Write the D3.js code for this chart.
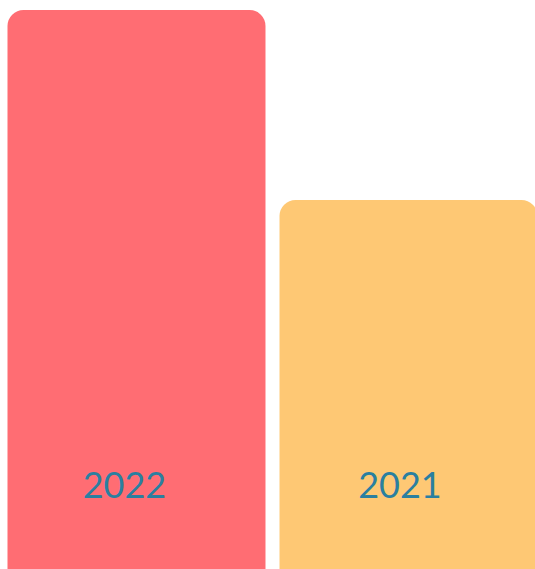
<!DOCTYPE html>
<html>
<head>
<meta charset="utf-8">
<script src="https://cdn.jsdelivr.net/npm/d3@7"></script>
<style>
html,body{margin:0;padding:0;background:#fff;overflow:hidden;}
svg{display:block;}
</style>
</head>
<body>
<div id="chart"></div>
<script>
const categories = ["2022", "2021"];
const values = [580, 390];
const colors = ["#FF6D73", "#FEC874"];

const W = 535, H = 569;
const svg = d3.select("#chart").append("svg").attr("width", W).attr("height", H);

const baseline = 590;
const x = d3.scaleBand().domain(categories).range([7.5, 537.5]).paddingInner(0.0515).paddingOuter(0);
const y = d3.scaleLinear().domain([0, 580]).range([baseline, 10]);

const data = categories.map((c, i) => ({c, v: values[i], col: colors[i]}));

svg.selectAll("rect.bar").data(data).enter().append("rect")
  .attr("class", "bar")
  .attr("x", d => x(d.c))
  .attr("y", d => y(d.v))
  .attr("width", x.bandwidth())
  .attr("height", d => baseline + 40 - y(d.v))
  .attr("rx", 16).attr("ry", 16)
  .attr("fill", d => d.col);

svg.selectAll("text.lbl").data(data).enter().append("text")
  .attr("class", "lbl")
  .attr("x", (d, i) => x(d.c) + x.bandwidth() / 2 - (i === 0 ? 12 : 8.5))
  .attr("y", 497.5)
  .attr("text-anchor", "middle")
  .attr("font-family", "Lato, 'Open Sans', sans-serif")
  .attr("font-size", 36)
  .attr("fill", "#2A7FA0")
  .text(d => d.c);
</script>
</body>
</html>
